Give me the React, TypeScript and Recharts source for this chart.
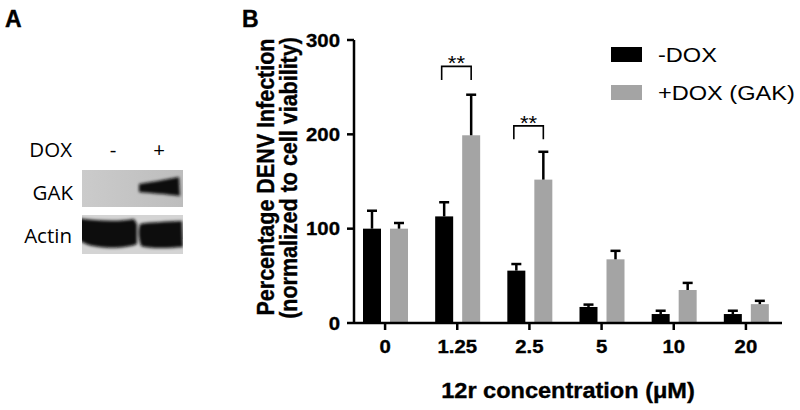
import React from 'react';
import { BarChart, Bar, XAxis, YAxis, Legend } from 'recharts';

// DENV infection vs 12r concentration
const concentrations = ['0', '1.25', '2.5', '5', '10', '20'];
const minusDox = [100, 113, 55.5, 17, 9.5, 9.5];
const minusDoxErr = [19, 15, 7, 2.5, 3.5, 3.5];
const plusDox = [100, 199, 152, 67.5, 35, 20];
const plusDoxErr = [6, 43, 29.5, 9, 7.5, 3.5];
const sigBracket = [null, 272, 209, null, null, null];
const yTicks = [0, 100, 200, 300];
const seriesOrder = ['minus', 'plus'];

const data = concentrations.map((conc, i) => ({
  conc,
  minus: minusDox[i],
  minusErr: minusDoxErr[i],
  plus: plusDox[i],
  plusErr: plusDoxErr[i],
  sig: sigBracket[i],
}));

const FONT = '"Liberation Sans", Arial, Helvetica, sans-serif';
const BAR_GAP = 9;

// text with a slight horizontal stretch, like the source figure
function STxt({ x, y, size, weight = 'normal', anchor = 'start', sx = 1, rotate = false, family = FONT, children }: any) {
  const t = rotate
    ? `translate(${x},${y}) rotate(-90) scale(1,${sx})`
    : `translate(${x},${y}) scale(${sx},1)`;
  const heavy = weight === 'bold';
  return (
    <text
      transform={t}
      x={0}
      y={0}
      fontSize={size}
      fontWeight={weight}
      fontFamily={family}
      textAnchor={anchor}
      fill="#000"
      stroke={heavy ? '#000' : 'none'}
      strokeWidth={heavy ? 0.35 : 0}
    >
      {children}
    </text>
  );
}

function ErrBar(props: any) {
  const { x, y, width, height, fill, val, err, bracket } = props;
  if (!val) return null;
  const k = height / val;
  const cx = x + width / 2;
  const top = y - err * k;
  let br = null;
  if (bracket != null) {
    const by = y + height - bracket * k;
    const left = x - BAR_GAP - width / 2 - 2.5;
    const right = cx;
    br = (
      <g>
        <path d={`M${left},${by + 13.5} V${by} H${right} V${by + 13.5}`} fill="none" stroke="#000" strokeWidth={1.6} />
        <STxt x={(left + right) / 2} y={by + 4} size={21} anchor="middle" sx={1.05}>**</STxt>
      </g>
    );
  }
  return (
    <g>
      <rect x={x} y={y} width={width} height={height} fill={fill} />
      <line x1={cx} y1={y} x2={cx} y2={top} stroke="#000" strokeWidth={2.5} />
      <line x1={cx - 5} y1={top} x2={cx + 5} y2={top} stroke="#000" strokeWidth={2.5} />
      {br}
    </g>
  );
}

function XTick(props: any) {
  const { x, y, payload } = props;
  return <STxt x={x} y={y + 13} size={18.5} weight="bold" anchor="middle" sx={1.1}>{payload.value}</STxt>;
}

function YTick(props: any) {
  const { x, y, payload } = props;
  return <STxt x={x} y={y + 6.6} size={18.5} weight="bold" anchor="end" sx={1.1}>{payload.value}</STxt>;
}

function YLabel() {
  return (
    <g>
      <STxt x={273.5} y={177} size={21.5} weight="bold" anchor="middle" sx={1.08} rotate>Percentage DENV Infection</STxt>
      <STxt x={297} y={178} size={21.5} weight="bold" anchor="middle" sx={1.08} rotate>(normalized to cell viability)</STxt>
    </g>
  );
}

function XLabel() {
  return <STxt x={568} y={398} size={22} weight="bold" anchor="middle" sx={1.07}>12r concentration (μM)</STxt>;
}

function LegendBox(props: any) {
  const items = [...(props.payload || [])].sort(
    (a: any, b: any) => seriesOrder.indexOf(a.dataKey) - seriesOrder.indexOf(b.dataKey)
  );
  return (
    <svg width={800} height={410} style={{ position: 'absolute', left: 0, top: 0 }}>
      {items.map((it: any, i: number) => (
        <g key={it.value}>
          <rect x={611} y={47 + i * 38} width={31} height={15} fill={it.color} />
          <STxt x={658} y={61.7 + i * 38} size={20.5} sx={1.15}>{it.value}</STxt>
        </g>
      ))}
    </svg>
  );
}

function Blot() {
  return (
    <svg width={280} height={300} style={{ position: 'absolute', left: 0, top: 0 }}>
      <defs>
        <filter id="bl" x="-20%" y="-20%" width="140%" height="140%">
          <feGaussianBlur stdDeviation="1.6" />
        </filter>
        <linearGradient id="gakBg" x1="0" x2="1" y1="0" y2="0">
          <stop offset="0" stopColor="#cbcbcb" />
          <stop offset="1" stopColor="#bdbdbd" />
        </linearGradient>
        <clipPath id="gakClip"><rect x={82} y={170} width={101} height={37} /></clipPath>
        <clipPath id="actClip"><rect x={82} y={215} width={101} height={39} /></clipPath>
      </defs>
      <text x={5} y={27} fontSize={23} fontWeight="bold" fontFamily={FONT} stroke="#000" strokeWidth={0.4}>A</text>
      <text x={242} y={27} fontSize={23} fontWeight="bold" fontFamily={FONT} stroke="#000" strokeWidth={0.4}>B</text>
      <text x={72} y={157} fontSize={20.5} fontFamily='"Open Sans", sans-serif' textAnchor="end">DOX</text>
      <text x={113} y={157} fontSize={20.5} fontFamily='"Open Sans", sans-serif' textAnchor="middle">-</text>
      <text x={159} y={157} fontSize={20.5} fontFamily='"Open Sans", sans-serif' textAnchor="middle">+</text>
      <text x={73} y={200} fontSize={20.5} fontFamily='"Open Sans", sans-serif' textAnchor="end">GAK</text>
      <text x={72} y={243} fontSize={20.5} fontFamily='"Open Sans", sans-serif' textAnchor="end">Actin</text>
      <g clipPath="url(#gakClip)">
        <rect x={82} y={170} width={101} height={37} fill="url(#gakBg)" />
        <path d="M139,184 C150,182 165,180 179,177 L180,196 C165,194 150,193 139,192 Z" fill="#111" filter="url(#bl)" />
      </g>
      <g clipPath="url(#actClip)">
        <rect x={82} y={215} width={101} height={39} fill="#d4d4d4" />
        <path d="M78,218 C95,221 120,222 134,219 L137,224 L137,244 C125,249 100,249 86,244 L78,240 Z" fill="#0a0a0a" filter="url(#bl)" />
        <path d="M140,224 C150,222 165,222 182,221 L183,247 C170,248 150,249 141,246 C138,236 138,230 140,224 Z" fill="#0a0a0a" filter="url(#bl)" />
      </g>
    </svg>
  );
}

export default function App() {
  return (
    <div style={{ position: 'absolute', left: 0, top: 0, width: 800, height: 410, background: '#fff' }}>
      <BarChart
        width={800}
        height={410}
        data={data}
        margin={{ top: 40, right: 18, bottom: 0, left: 0 }}
        barGap={BAR_GAP}
        barSize={18}
      >
        <XAxis
          dataKey="conc"
          height={87}
          padding={{ left: -5, right: 0 }}
          axisLine={{ stroke: '#000', strokeWidth: 2.5 }}
          tickLine={{ stroke: '#000', strokeWidth: 2.5 }}
          tickSize={7}
          tickMargin={10}
          tick={<XTick />}
          label={<XLabel />}
          interval={0}
        />
        <YAxis
          width={354}
          domain={[0, 300]}
          ticks={yTicks}
          axisLine={{ stroke: '#000', strokeWidth: 2.5 }}
          tickLine={{ stroke: '#000', strokeWidth: 2.5 }}
          tickSize={7}
          tickMargin={7}
          tick={<YTick />}
          label={<YLabel />}
        />
        <Legend
          layout="vertical"
          align="center"
          verticalAlign="middle"
          wrapperStyle={{ left: 0, top: 0, width: 800, height: 410, pointerEvents: 'none' }}
          content={<LegendBox />}
        />
        <Bar
          dataKey="minus"
          name="-DOX"
          fill="#000"
          isAnimationActive={false}
          shape={(p: any) => <ErrBar {...p} val={p.payload.minus} err={p.payload.minusErr} bracket={null} />}
        />
        <Bar
          dataKey="plus"
          name="+DOX (GAK)"
          fill="#a4a4a4"
          isAnimationActive={false}
          shape={(p: any) => <ErrBar {...p} val={p.payload.plus} err={p.payload.plusErr} bracket={p.payload.sig} />}
        />
      </BarChart>
      <Blot />
    </div>
  );
}
